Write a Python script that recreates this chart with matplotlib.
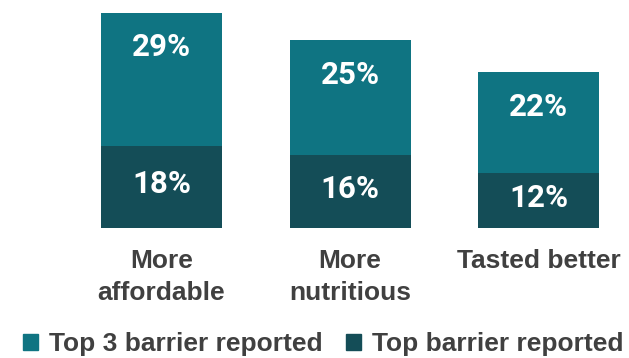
import matplotlib
matplotlib.use("Agg")
import matplotlib.pyplot as plt
from matplotlib.patches import Patch

categories = ["More\naffordable", "More\nnutritious", "Tasted better"]
top_barrier = [18, 16, 12]
top3_barrier = [29, 25, 22]
series_names = ["Top 3 barrier reported", "Top barrier reported"]

c_top3 = "#0f7482"
c_top = "#144d57"
txt = "#404040"

fig = plt.figure(figsize=(6.29, 3.58), dpi=100)
W, H = 629, 358
px = 188.5
x0 = 161.5
xmin = -x0 / px
xmax = (W - x0) / px
ax = fig.add_axes([0, 130 / H, 1, 215 / H])
ax.set_xlim(xmin, xmax)
ax.set_ylim(0, 47)

x = list(range(len(categories)))
w = 121 / px
ax.bar(x, top_barrier, width=w, color=c_top, linewidth=0)
ax.bar(x, top3_barrier, width=w, bottom=top_barrier, color=c_top3, linewidth=0)

for i in x:
    tot = top_barrier[i] + top3_barrier[i]
    ax.text(i, tot - 7.5, f"{top3_barrier[i]}%", ha="center", va="center",
            color="white", fontsize=22.5, fontweight="bold", family="Roboto")
    ax.text(i, top_barrier[i] / 2 + 0.6, f"{top_barrier[i]}%", ha="center", va="center",
            color="white", fontsize=22.5, fontweight="bold", family="Roboto")

ax.set_xticks(x)
ax.set_xticklabels(categories, fontsize=19, fontweight="bold",
                   family="Liberation Sans", color=txt, linespacing=1.42)
ax.tick_params(axis="x", length=0, pad=15)
ax.set_yticks([])
for s in ax.spines.values():
    s.set_visible(False)

handles = [Patch(color=c_top3), Patch(color=c_top)]
leg = fig.legend(handles, series_names, loc="center", bbox_to_anchor=(323.5 / W, 13.5 / H),
                 ncol=2, frameon=False, handlelength=0.55, handleheight=0.55,
                 handletextpad=0.43, columnspacing=0.9,
                 prop={"family": "Liberation Sans", "weight": "bold", "size": 19})
for t in leg.get_texts():
    t.set_color(txt)

fig.savefig("out.png", dpi=100)
